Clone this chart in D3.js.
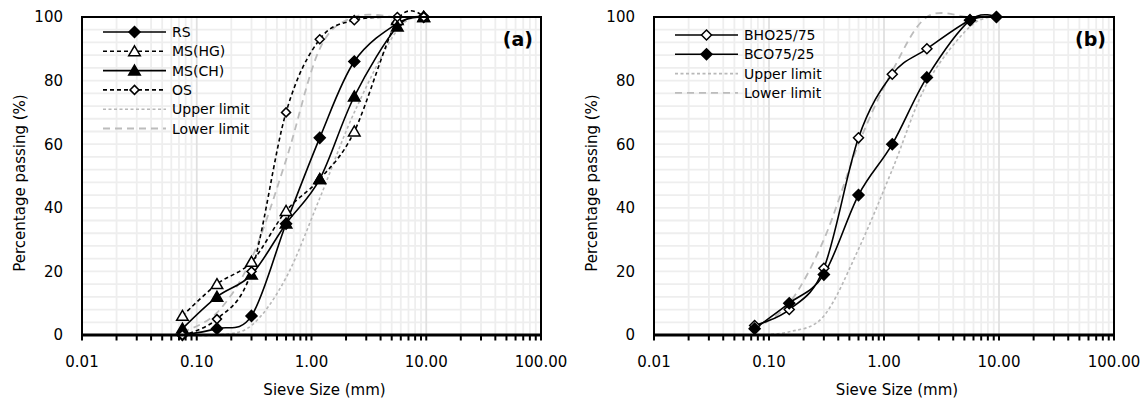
<!DOCTYPE html>
<html>
<head>
<meta charset="utf-8">
<script src="https://cdn.jsdelivr.net/npm/d3@7"></script>
<style>
body { margin: 0; background: #fff; }
svg text { font-family: "DejaVu Sans", sans-serif; fill: #000; }
</style>
</head>
<body>
<script>
// sieve sizes (mm) shared by every series
var sieveSizes = [0.075, 0.15, 0.3, 0.6, 1.18, 2.36, 5.6, 9.5];

// panel (a)
var rs    = [0, 2, 6, 35, 62, 86, 98, 100];
var msHG  = [6, 16, 23, 39, 49, 64, 99, 100];
var msCH  = [2, 12, 19, 35, 49, 75, 97, 100];
var os    = [0, 5, 20, 70, 93, 99, 100, 100];
var upperA = [0, 0, 3, 18, 43, 70, 96, 100];
var lowerA = [1, 7, 24, 55, 90, 100, 100, 100];

// panel (b)
var bho   = [3, 8, 21, 62, 82, 90, 99, 100];
var bco   = [2, 10, 19, 44, 60, 81, 99, 100];
var upperB = [0, 1, 6, 27, 52, 79, 97, 100];
var lowerB = [2, 10, 30, 60, 83, 100, 100, 100];

var xTicks = [0.01, 0.1, 1, 10, 100];
var xTickLabels = ["0.01", "0.10", "1.00", "10.00", "100.00"];
var yTicks = [0, 20, 40, 60, 80, 100];

var W = 1147, H = 401;
var svg = d3.select("body").append("svg").attr("width", W).attr("height", H);

function diamond(r) { return "M0," + (-r) + "L" + r + ",0L0," + r + "L" + (-r) + ",0Z"; }
function triangle(r) { return "M0," + (-r) + "L" + (r * 1.05) + "," + (r * 0.8) + "L" + (-r * 1.05) + "," + (r * 0.8) + "Z"; }

var styles = {
    solid:  { stroke: "#000", width: 1.6, dash: null },
    dashed: { stroke: "#000", width: 1.6, dash: "4,3" },
    upper:  { stroke: "#b8b8b8", width: 1.6, dash: "3,2.5" },
    lower:  { stroke: "#bcbcbc", width: 1.8, dash: "7,5" }
};

function drawPanel(left, right, label, series) {
    var top = 17, bottom = 335;
    var x = d3.scaleLog().domain([0.01, 100]).range([left, right]);
    var y = d3.scaleLinear().domain([0, 100]).range([bottom, top]);
    var g = svg.append("g");

    // grid
    var minor = [];
    for (var e = -2; e < 2; e++) {
        for (var m = 2; m <= 9; m++) minor.push(m * Math.pow(10, e));
    }
    g.selectAll("line.vmin").data(minor).enter().append("line")
        .attr("x1", function (d) { return x(d); }).attr("x2", function (d) { return x(d); })
        .attr("y1", top).attr("y2", bottom)
        .attr("stroke", "#eeeeee").attr("stroke-width", 1.8);
    var hmin = d3.range(4, 100, 4);
    g.selectAll("line.hmin").data(hmin).enter().append("line")
        .attr("x1", left).attr("x2", right)
        .attr("y1", function (d) { return y(d); }).attr("y2", function (d) { return y(d); })
        .attr("stroke", "#eeeeee").attr("stroke-width", 1.8);
    g.selectAll("line.vmaj").data([0.1, 1, 10]).enter().append("line")
        .attr("x1", function (d) { return x(d); }).attr("x2", function (d) { return x(d); })
        .attr("y1", top).attr("y2", bottom)
        .attr("stroke", "#e0e0e0").attr("stroke-width", 1.8);

    var line = d3.line()
        .x(function (d) { return x(d[0]); })
        .y(function (d) { return y(d[1]); })
        .curve(d3.curveCatmullRom.alpha(0));

    series.forEach(function (s) {
        var st = styles[s.style];
        var pts = sieveSizes.map(function (v, i) { return [v, s.values[i]]; });
        g.append("path").datum(pts)
            .attr("d", line)
            .attr("fill", "none")
            .attr("stroke", st.stroke)
            .attr("stroke-width", st.width)
            .attr("stroke-dasharray", st.dash);
    });
    series.forEach(function (s) {
        if (!s.marker) return;
        var pts = sieveSizes.map(function (v, i) { return [v, s.values[i]]; });
        g.selectAll(null).data(pts).enter().append("path")
            .attr("transform", function (d) { return "translate(" + x(d[0]) + "," + y(d[1]) + ")"; })
            .attr("d", s.marker)
            .attr("fill", s.fill)
            .attr("stroke", "#000")
            .attr("stroke-width", 1.5);
    });

    // frame
    g.append("rect").attr("x", left).attr("y", top)
        .attr("width", right - left).attr("height", bottom - top)
        .attr("fill", "none").attr("stroke", "#000").attr("stroke-width", 2);
    g.append("line").attr("x1", left).attr("x2", right).attr("y1", bottom).attr("y2", bottom)
        .attr("stroke", "#000").attr("stroke-width", 3);

    // x ticks
    var allTicks = minor.concat(xTicks);
    g.selectAll("line.xt").data(allTicks).enter().append("line")
        .attr("x1", function (d) { return x(d); }).attr("x2", function (d) { return x(d); })
        .attr("y1", bottom).attr("y2", bottom + 5.5)
        .attr("stroke", "#000").attr("stroke-width", 2);

    g.selectAll("text.xl").data(xTicks).enter().append("text")
        .attr("x", function (d) { return x(d); }).attr("y", 367)
        .attr("text-anchor", "middle").attr("font-size", 15)
        .text(function (d, i) { return xTickLabels[i]; });
    g.selectAll("text.yl").data(yTicks).enter().append("text")
        .attr("x", left - 19).attr("y", function (d) { return y(d); })
        .attr("dy", "0.36em")
        .attr("text-anchor", "end").attr("font-size", 15)
        .text(function (d) { return d; });

    g.append("text").attr("x", (left + right) / 2 + 13).attr("y", 395)
        .attr("text-anchor", "middle").attr("font-size", 15)
        .text("Sieve Size (mm)");
    g.append("text")
        .attr("transform", "translate(" + (left - 57) + ",183) rotate(-90)")
        .attr("text-anchor", "middle").attr("font-size", 15)
        .text("Percentage passing (%)");

    g.append("text").attr("x", right - 8).attr("y", 46)
        .attr("text-anchor", "end").attr("font-size", 19).attr("font-weight", "bold")
        .text(label);

    // legend
    var legendItems = series.filter(function (s) { return s.legend; });
    var lx0 = left + 21, lx1 = left + 84;
    var lg = g.selectAll("g.leg").data(legendItems).enter().append("g")
        .attr("transform", function (d, i) { return "translate(0," + (series.legendY + i * 19.3) + ")"; });
    lg.append("line").attr("x1", lx0).attr("x2", lx1)
        .attr("stroke", function (d) { return styles[d.style].stroke; })
        .attr("stroke-width", function (d) { return styles[d.style].width; })
        .attr("stroke-dasharray", function (d) { return styles[d.style].dash; });
    lg.filter(function (d) { return d.marker; }).append("path")
        .attr("transform", "translate(" + ((lx0 + lx1) / 2) + ",0)")
        .attr("d", function (d) { return d.marker; })
        .attr("fill", function (d) { return d.fill; })
        .attr("stroke", "#000").attr("stroke-width", 1.5);
    lg.append("text").attr("x", lx1 + 6).attr("dy", "0.36em")
        .attr("font-size", 14)
        .text(function (d) { return d.name; });
}

var seriesA = [
    { name: "Upper limit", values: upperA, style: "upper", legend: true, order: 4 },
    { name: "Lower limit", values: lowerA, style: "lower", legend: true, order: 5 },
    { name: "RS", values: rs, style: "solid", marker: diamond(5.5), fill: "#000", legend: true, order: 0 },
    { name: "MS(HG)", values: msHG, style: "dashed", marker: triangle(5.5), fill: "#fff", legend: true, order: 1 },
    { name: "MS(CH)", values: msCH, style: "solid", marker: triangle(5.5), fill: "#000", legend: true, order: 2 },
    { name: "OS", values: os, style: "dashed", marker: diamond(4.5), fill: "#fff", legend: true, order: 3 }
];
var seriesB = [
    { name: "Upper limit", values: upperB, style: "upper", legend: true, order: 2 },
    { name: "Lower limit", values: lowerB, style: "lower", legend: true, order: 3 },
    { name: "BHO25/75", values: bho, style: "solid", marker: diamond(5), fill: "#fff", legend: true, order: 0 },
    { name: "BCO75/25", values: bco, style: "solid", marker: diamond(5.5), fill: "#000", legend: true, order: 1 }
];

// legend order differs from drawing order
function withLegendOrder(list, y0) {
    var ordered = list.slice().sort(function (a, b) { return a.order - b.order; });
    var out = list.slice();
    out.legendY = y0;
    out.filter = function (f) { return ordered.filter(f); };
    return out;
}

drawPanel(82, 541, "(a)", withLegendOrder(seriesA, 32));
drawPanel(654, 1114, "(b)", withLegendOrder(seriesB, 35));
</script>
</body>
</html>
